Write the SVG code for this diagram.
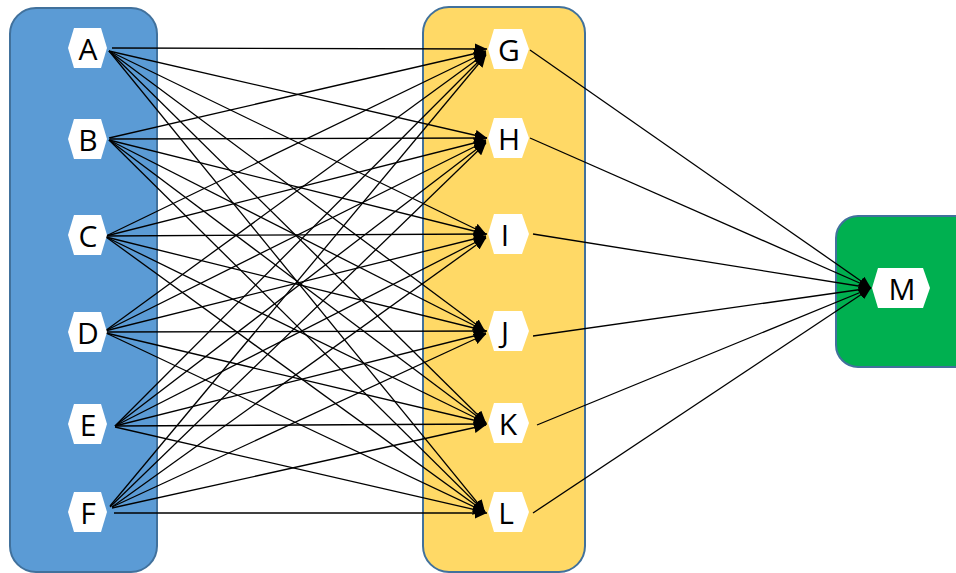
<svg xmlns="http://www.w3.org/2000/svg" width="956" height="573" viewBox="0 0 956 573">
<style>
.panel{stroke:#41719C;stroke-width:2}
.hex{fill:#FFFFFF;stroke:none}
.lbl{font-family:"Open Sans","Liberation Sans",sans-serif;font-size:30px;fill:#000000;text-anchor:middle;dominant-baseline:central}
.edge{stroke:#000000;stroke-width:1.3;fill:none;marker-end:url(#arr)}
</style>
<defs>
<marker id="arr" markerUnits="userSpaceOnUse" markerWidth="13" markerHeight="11" refX="12" refY="5.5" orient="auto">
<path d="M0,0 L12,5.5 L0,11 z" fill="#000000"/>
</marker>
</defs>
<rect id="panel-left" class="panel" x="10" y="8" width="147" height="564" rx="26" fill="#5B9BD5"/>
<rect id="panel-mid" class="panel" x="423" y="7" width="162" height="565" rx="26" fill="#FFD966"/>
<rect id="panel-right" class="panel" x="836" y="216" width="140" height="151" rx="22" fill="#00B050"/>
<g id="connectors">
<line class="edge" x1="112" y1="48" x2="487" y2="49"/>
<line class="edge" x1="109" y1="51" x2="487" y2="138"/>
<line class="edge" x1="109" y1="51" x2="486" y2="234"/>
<line class="edge" x1="109" y1="51" x2="485" y2="331"/>
<line class="edge" x1="109" y1="51" x2="486" y2="423"/>
<line class="edge" x1="109" y1="51" x2="485" y2="512"/>
<line class="edge" x1="109" y1="138" x2="486" y2="51"/>
<line class="edge" x1="110" y1="139" x2="487" y2="138"/>
<line class="edge" x1="109" y1="140" x2="486" y2="234"/>
<line class="edge" x1="109" y1="140" x2="485" y2="331"/>
<line class="edge" x1="109" y1="140" x2="486" y2="423"/>
<line class="edge" x1="109" y1="140" x2="485" y2="512"/>
<line class="edge" x1="106" y1="236" x2="486" y2="52"/>
<line class="edge" x1="106" y1="236" x2="486" y2="140"/>
<line class="edge" x1="106" y1="236" x2="487" y2="234"/>
<line class="edge" x1="106" y1="237" x2="486" y2="331"/>
<line class="edge" x1="106" y1="237" x2="486" y2="423"/>
<line class="edge" x1="106" y1="237" x2="485" y2="512"/>
<line class="edge" x1="105" y1="331" x2="486" y2="53"/>
<line class="edge" x1="105" y1="331" x2="486" y2="141"/>
<line class="edge" x1="105" y1="331" x2="486" y2="236"/>
<line class="edge" x1="106" y1="332" x2="487" y2="331"/>
<line class="edge" x1="106" y1="333" x2="486" y2="423"/>
<line class="edge" x1="106" y1="333" x2="485" y2="512"/>
<line class="edge" x1="115" y1="426" x2="486" y2="54"/>
<line class="edge" x1="115" y1="426" x2="486" y2="142"/>
<line class="edge" x1="115" y1="426" x2="486" y2="237"/>
<line class="edge" x1="115" y1="426" x2="486" y2="333"/>
<line class="edge" x1="115" y1="426" x2="487" y2="424"/>
<line class="edge" x1="115" y1="427" x2="485" y2="512"/>
<line class="edge" x1="110" y1="506" x2="486" y2="55"/>
<line class="edge" x1="110" y1="507" x2="486" y2="143"/>
<line class="edge" x1="112" y1="507" x2="486" y2="238"/>
<line class="edge" x1="112" y1="507" x2="486" y2="334"/>
<line class="edge" x1="112" y1="508" x2="486" y2="425"/>
<line class="edge" x1="114" y1="513" x2="487" y2="513"/>
<line class="edge" x1="530" y1="50" x2="871" y2="288"/>
<line class="edge" x1="530" y1="138" x2="871" y2="288"/>
<line class="edge" x1="533" y1="234" x2="871" y2="288"/>
<line class="edge" x1="533" y1="336" x2="871" y2="288"/>
<line class="edge" x1="537" y1="425" x2="871" y2="288"/>
<line class="edge" x1="533" y1="513" x2="871" y2="288"/>
</g>
<g id="node-A"><polygon class="hex" points="68,48 74,28 101,28 107,48 101,68 74,68"/><text class="lbl" x="88" y="48">A</text></g>
<g id="node-B"><polygon class="hex" points="68,139 74,119 101,119 107,139 101,159 74,159"/><text class="lbl" x="88" y="139">B</text></g>
<g id="node-C"><polygon class="hex" points="68,235 74,215 101,215 107,235 101,255 74,255"/><text class="lbl" x="88" y="235">C</text></g>
<g id="node-D"><polygon class="hex" points="68,332 74,312 101,312 107,332 101,352 74,352"/><text class="lbl" x="88" y="332">D</text></g>
<g id="node-E"><polygon class="hex" points="68,424 74,404 101,404 107,424 101,444 74,444"/><text class="lbl" x="88" y="424">E</text></g>
<g id="node-F"><polygon class="hex" points="68,512 74,492 101,492 107,512 101,532 74,532"/><text class="lbl" x="88" y="512">F</text></g>
<g id="node-G"><polygon class="hex" points="488,49 494,29 522,29 529,49 522,69 494,69"/><text class="lbl" x="509" y="49">G</text></g>
<g id="node-H"><polygon class="hex" points="488,138 494,118 522,118 529,138 522,158 494,158"/><text class="lbl" x="509" y="138">H</text></g>
<g id="node-I"><polygon class="hex" points="488,234 494,214 522,214 529,234 522,254 494,254"/><text class="lbl" x="505" y="234">I</text></g>
<g id="node-J"><polygon class="hex" points="488,331 494,311 522,311 529,331 522,351 494,351"/><text class="lbl" x="505" y="331">J</text></g>
<g id="node-K"><polygon class="hex" points="488,423 494,403 522,403 529,423 522,443 494,443"/><text class="lbl" x="508" y="423">K</text></g>
<g id="node-L"><polygon class="hex" points="488,512 494,492 522,492 529,512 522,532 494,532"/><text class="lbl" x="506" y="512">L</text></g>
<g id="node-M"><polygon class="hex" points="872,288 878,268 923,268 930,288 923,308 878,308"/><text class="lbl" x="902" y="288">M</text></g>
</svg>
